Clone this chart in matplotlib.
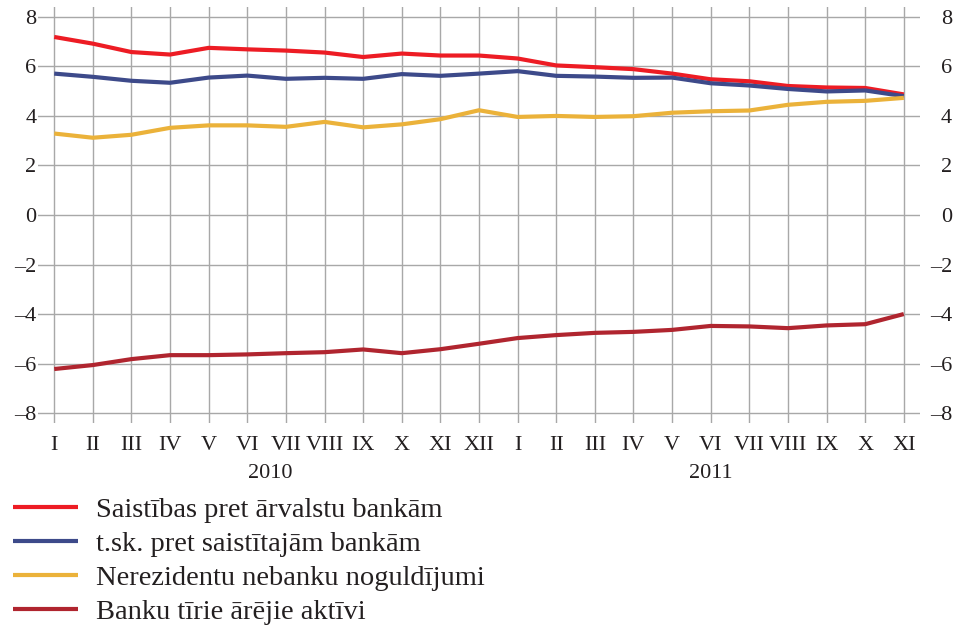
import matplotlib.pyplot as plt

months = ["I", "II", "III", "IV", "V", "VI", "VII", "VIII", "IX", "X", "XI", "XII",
          "I", "II", "III", "IV", "V", "VI", "VII", "VIII", "IX", "X", "XI"]
years = ["2010", "2011"]

saistibas = [7.19, 6.92, 6.58, 6.48, 6.75, 6.69, 6.64, 6.56, 6.38, 6.52, 6.44, 6.44,
             6.32, 6.04, 5.97, 5.89, 5.71, 5.48, 5.40, 5.21, 5.15, 5.13, 4.87]
saistitajam = [5.71, 5.58, 5.42, 5.34, 5.55, 5.63, 5.50, 5.54, 5.50, 5.69, 5.62, 5.71,
               5.81, 5.62, 5.59, 5.54, 5.55, 5.32, 5.23, 5.09, 4.99, 5.03, 4.80]
noguldijumi = [3.29, 3.12, 3.24, 3.52, 3.62, 3.62, 3.56, 3.76, 3.54, 3.66, 3.87, 4.23,
               3.96, 4.00, 3.96, 3.99, 4.13, 4.19, 4.22, 4.45, 4.57, 4.61, 4.73]
aktivi = [-6.22, -6.06, -5.82, -5.66, -5.66, -5.63, -5.58, -5.54, -5.43, -5.58, -5.42, -5.20,
          -4.97, -4.85, -4.76, -4.72, -4.64, -4.48, -4.50, -4.57, -4.46, -4.41, -4.00]

labels = ["Saistības pret ārvalstu bankām", "t.sk. pret saistītajām bankām",
          "Nerezidentu nebanku noguldījumi", "Banku tīrie ārējie aktīvi"]
colors = ["#ED1C24", "#3D4A8A", "#EBB23A", "#B0252F"]
yticks = [-8, -6, -4, -2, 0, 2, 4, 6, 8]

plt.rcParams["font.family"] = ["Liberation Serif", "DejaVu Serif"]

fig = plt.figure(figsize=(9.55, 6.25), dpi=100)
ax = fig.add_axes([38 / 955, 1 - 423 / 625, 882 / 955, 416 / 625])

x = list(range(len(months)))
for series, lab, col in zip([saistibas, saistitajam, noguldijumi, aktivi], labels, colors):
    ax.plot(x, series, color=col, lw=3, label=lab, solid_capstyle="butt", zorder=3)

ax.set_xlim(-0.42, len(months) - 1 + 0.42)
ax.set_ylim(-8.4, 8.4)
ax.set_xticks(x)
ax.set_xticklabels(months)
ax.set_yticks(yticks)
ax.set_yticklabels([str(v).replace("-", "\u2013") for v in yticks])
ax.grid(True, color="#A8A8A8", lw=1.0)
for s in ax.spines.values():
    s.set_visible(False)
ax.tick_params(axis="both", length=0, labelsize=16, colors="#231F20")
ax.tick_params(axis="y", pad=1)
ax.tick_params(axis="x", pad=9)

ax2 = ax.twinx()
ax2.set_ylim(ax.get_ylim())
ax2.set_yticks(yticks)
ax2.set_yticklabels([str(v).replace("-", "\u2013") for v in yticks])
for s in ax2.spines.values():
    s.set_visible(False)
ax2.tick_params(axis="y", length=0, labelsize=16, colors="#231F20", pad=23)
for t in ax2.get_yticklabels():
    t.set_horizontalalignment("right")

ax.text(5.6, -10.45, years[0], ha="center", va="center", fontsize=16, color="#231F20")
ax.text(17, -10.45, years[1], ha="center", va="center", fontsize=16, color="#231F20")

handles, labs = ax.get_legend_handles_labels()
leg = fig.legend(handles, labs, loc="upper left", bbox_to_anchor=(13 / 955, 1 - 497 / 625),
                 frameon=False, fontsize=20.5, handlelength=2.3, handletextpad=0.6,
                 labelspacing=0.28, borderpad=0, borderaxespad=0)
for t in leg.get_texts():
    t.set_color("#231F20")

fig.savefig("out.png", dpi=100)
